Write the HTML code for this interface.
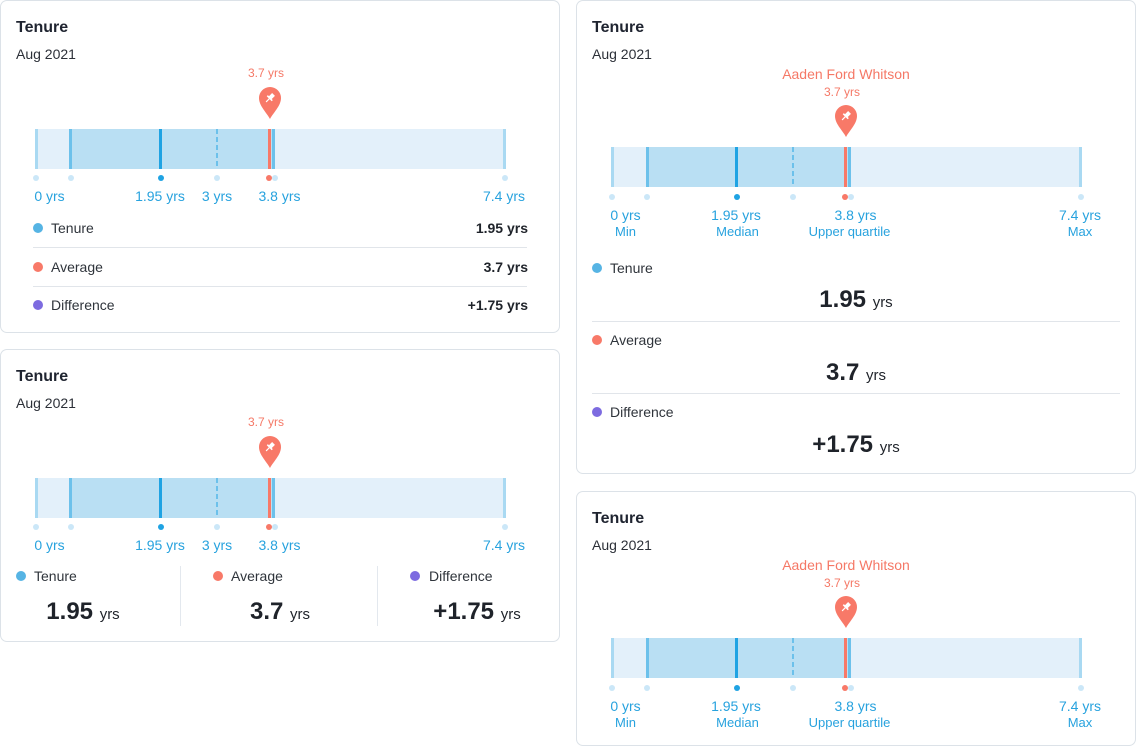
<!DOCTYPE html>
<html><head><meta charset="utf-8">
<style>
*{margin:0;padding:0;box-sizing:border-box}
body{width:1136px;height:746px;background:#fff;position:relative;overflow:hidden;font-family:"Liberation Sans",Arial,sans-serif}
.card{position:absolute;background:#fff;box-shadow:inset 0 0 0 1px #dce2e8;border-radius:7px}
.a{position:absolute}
.t{position:absolute;left:16px;top:18px;font-weight:700;font-size:16px;line-height:20px;color:#1f2430}
.d{position:absolute;left:16px;top:44px;font-size:14px;line-height:20px;color:#2c3038}
.chart{position:absolute;left:0;width:100%;height:1px}
.bg{position:absolute;left:35px;width:471px;top:0;height:40px;background:#e3f0fa}
.fill{position:absolute;left:71px;width:203px;top:0;height:40px;background:#b9dff3}
.ln{position:absolute;top:0;height:40px;width:3px}
.dash{position:absolute;top:0;height:40px;left:216px;width:2px;background:repeating-linear-gradient(to bottom,#6cc1eb 0 5px,transparent 5px 8px)}
.dot{position:absolute;width:6px;height:6px;border-radius:50%;top:46px}
.lb{position:absolute;width:120px;text-align:center;font-size:14px;line-height:20px;color:#27a2de;top:57px}
.sb{position:absolute;width:120px;text-align:center;font-size:13px;line-height:18px;color:#27a2de;top:76px}
.pl{position:absolute;width:120px;text-align:center;font-size:12px;line-height:16px;color:#f57866;top:-64px;left:206px}
.nm{position:absolute;width:200px;text-align:center;font-size:14px;line-height:20px;color:#f57866;top:-83px;left:170px}
.pin{position:absolute;left:258.5px;top:-42px}
.lg{position:absolute;font-size:14px;line-height:20px;color:#2f343b}
.ld{position:absolute;width:10px;height:10px;border-radius:50%}
.lv{position:absolute;font-size:14px;line-height:20px;color:#1f232a;font-weight:700;text-align:right}
.sep{position:absolute;height:1px;background:#e1e5ea}
.big{position:absolute;width:200px;text-align:center;font-size:24px;line-height:32px;font-weight:700;color:#1f232a;white-space:nowrap}
.big span{font-size:15px;font-weight:400}
</style></head><body>

<!-- shared chart template repeated -->

<!-- Card 1 -->
<div class="card" style="left:0;top:0;width:560px;height:333px">
  <div class="t">Tenure</div>
  <div class="d">Aug 2021</div>
  <div class="chart" style="top:129px">
    <div class="pl">3.7 yrs</div>
    <svg class="pin" width="22" height="32" viewBox="0 0 22 32"><path d="M11 32 C8 26 0 19 0 11 A11 11 0 1 1 22 11 C22 19 14 26 11 32 Z" fill="#f87968"/><g transform="rotate(45 11 11)" fill="#fff"><rect x="9" y="6" width="4" height="5"/><rect x="7.5" y="10.5" width="7" height="1.6"/><rect x="10.4" y="12" width="1.2" height="4.5"/></g></svg>
    <div class="bg"></div><div class="fill"></div>
    <div class="ln" style="left:35px;background:#a9d9f2"></div>
    <div class="ln" style="left:69px;background:#6cc1eb"></div>
    <div class="ln" style="left:159px;background:#1fa3e3"></div>
    <div class="dash"></div>
    <div class="ln" style="left:272px;background:#6cc1eb"></div>
    <div class="ln" style="left:268px;background:#f87968"></div>
    <div class="ln" style="left:503px;background:#a9d9f2"></div>
    <div class="dot" style="left:33px;background:#cbe7f8"></div>
    <div class="dot" style="left:67.5px;background:#cbe7f8"></div>
    <div class="dot" style="left:157.5px;background:#1fa3e3"></div>
    <div class="dot" style="left:214px;background:#cbe7f8"></div>
    <div class="dot" style="left:271.5px;background:#cbe7f8"></div>
    <div class="dot" style="left:265.5px;background:#f87968"></div>
    <div class="dot" style="left:501.5px;background:#cbe7f8"></div>
    <div class="lb" style="left:-10.5px">0 yrs</div>
    <div class="lb" style="left:100px">1.95 yrs</div>
    <div class="lb" style="left:157px">3 yrs</div>
    <div class="lb" style="left:219.5px">3.8 yrs</div>
    <div class="lb" style="left:444px">7.4 yrs</div>
  </div>
  <div class="ld" style="left:33px;top:223px;background:#56b4e4"></div>
  <div class="lg" style="left:51px;top:218px">Tenure</div>
  <div class="lv" style="right:32px;top:218px">1.95 yrs</div>
  <div class="sep" style="left:33px;width:494px;top:247px"></div>
  <div class="ld" style="left:33px;top:261.7px;background:#f87968"></div>
  <div class="lg" style="left:51px;top:256.7px">Average</div>
  <div class="lv" style="right:32px;top:256.7px">3.7 yrs</div>
  <div class="sep" style="left:33px;width:494px;top:286px"></div>
  <div class="ld" style="left:33px;top:300px;background:#7d6be0"></div>
  <div class="lg" style="left:51px;top:295px">Difference</div>
  <div class="lv" style="right:32px;top:295px">+1.75 yrs</div>
</div>

<!-- Card 2 -->
<div class="card" style="left:0;top:349px;width:560px;height:293px">
  <div class="t">Tenure</div>
  <div class="d">Aug 2021</div>
  <div class="chart" style="top:129px">
    <div class="pl">3.7 yrs</div>
    <svg class="pin" width="22" height="32" viewBox="0 0 22 32"><path d="M11 32 C8 26 0 19 0 11 A11 11 0 1 1 22 11 C22 19 14 26 11 32 Z" fill="#f87968"/><g transform="rotate(45 11 11)" fill="#fff"><rect x="9" y="6" width="4" height="5"/><rect x="7.5" y="10.5" width="7" height="1.6"/><rect x="10.4" y="12" width="1.2" height="4.5"/></g></svg>
    <div class="bg"></div><div class="fill"></div>
    <div class="ln" style="left:35px;background:#a9d9f2"></div>
    <div class="ln" style="left:69px;background:#6cc1eb"></div>
    <div class="ln" style="left:159px;background:#1fa3e3"></div>
    <div class="dash"></div>
    <div class="ln" style="left:272px;background:#6cc1eb"></div>
    <div class="ln" style="left:268px;background:#f87968"></div>
    <div class="ln" style="left:503px;background:#a9d9f2"></div>
    <div class="dot" style="left:33px;background:#cbe7f8"></div>
    <div class="dot" style="left:67.5px;background:#cbe7f8"></div>
    <div class="dot" style="left:157.5px;background:#1fa3e3"></div>
    <div class="dot" style="left:214px;background:#cbe7f8"></div>
    <div class="dot" style="left:271.5px;background:#cbe7f8"></div>
    <div class="dot" style="left:265.5px;background:#f87968"></div>
    <div class="dot" style="left:501.5px;background:#cbe7f8"></div>
    <div class="lb" style="left:-10.5px">0 yrs</div>
    <div class="lb" style="left:100px">1.95 yrs</div>
    <div class="lb" style="left:157px">3 yrs</div>
    <div class="lb" style="left:219.5px">3.8 yrs</div>
    <div class="lb" style="left:444px">7.4 yrs</div>
  </div>
  <div class="ld" style="left:15.7px;top:222px;background:#56b4e4"></div>
  <div class="lg" style="left:34px;top:217px">Tenure</div>
  <div class="ld" style="left:213px;top:222px;background:#f87968"></div>
  <div class="lg" style="left:231px;top:217px">Average</div>
  <div class="ld" style="left:410px;top:222px;background:#7d6be0"></div>
  <div class="lg" style="left:429px;top:217px">Difference</div>
  <div class="a" style="left:180px;top:217px;width:1px;height:60px;background:#e3e8ee"></div>
  <div class="a" style="left:377px;top:217px;width:1px;height:60px;background:#e3e8ee"></div>
  <div class="big" style="left:-17px;top:247px">1.95 <span>yrs</span></div>
  <div class="big" style="left:180px;top:247px">3.7 <span>yrs</span></div>
  <div class="big" style="left:377px;top:247px">+1.75 <span>yrs</span></div>
</div>

<!-- Card 3 -->
<div class="card" style="left:576px;top:0;width:560px;height:474px">
  <div class="t">Tenure</div>
  <div class="d">Aug 2021</div>
  <div class="chart" style="top:147px">
    <div class="nm">Aaden Ford Whitson</div>
    <div class="pl" style="top:-63px">3.7 yrs</div>
    <svg class="pin" width="22" height="32" viewBox="0 0 22 32"><path d="M11 32 C8 26 0 19 0 11 A11 11 0 1 1 22 11 C22 19 14 26 11 32 Z" fill="#f87968"/><g transform="rotate(45 11 11)" fill="#fff"><rect x="9" y="6" width="4" height="5"/><rect x="7.5" y="10.5" width="7" height="1.6"/><rect x="10.4" y="12" width="1.2" height="4.5"/></g></svg>
    <div class="bg"></div><div class="fill"></div>
    <div class="ln" style="left:35px;background:#a9d9f2"></div>
    <div class="ln" style="left:70px;background:#6cc1eb"></div>
    <div class="ln" style="left:159px;background:#1fa3e3"></div>
    <div class="dash"></div>
    <div class="ln" style="left:272px;background:#6cc1eb"></div>
    <div class="ln" style="left:268px;background:#f87968"></div>
    <div class="ln" style="left:503px;background:#a9d9f2"></div>
    <div class="dot" style="left:33px;top:47px;background:#cbe7f8"></div>
    <div class="dot" style="left:68px;top:47px;background:#cbe7f8"></div>
    <div class="dot" style="left:157.5px;top:47px;background:#1fa3e3"></div>
    <div class="dot" style="left:214px;top:47px;background:#cbe7f8"></div>
    <div class="dot" style="left:271.5px;top:47px;background:#cbe7f8"></div>
    <div class="dot" style="left:265.5px;top:47px;background:#f87968"></div>
    <div class="dot" style="left:501.5px;top:47px;background:#cbe7f8"></div>
    <div class="lb" style="left:-10.5px;top:58px">0 yrs</div>
    <div class="lb" style="left:100px;top:58px">1.95 yrs</div>
    <div class="lb" style="left:219.5px;top:58px">3.8 yrs</div>
    <div class="lb" style="left:444px;top:58px">7.4 yrs</div>
    <div class="sb" style="left:-10.5px">Min</div>
    <div class="sb" style="left:101.5px">Median</div>
    <div class="sb" style="left:213.5px">Upper quartile</div>
    <div class="sb" style="left:444px">Max</div>
  </div>
  <div class="ld" style="left:16px;top:263px;background:#56b4e4"></div>
  <div class="lg" style="left:34px;top:258px">Tenure</div>
  <div class="big" style="left:180px;top:284px">1.95 <span>yrs</span></div>
  <div class="sep" style="left:16px;width:528px;top:321px"></div>
  <div class="ld" style="left:16px;top:335px;background:#f87968"></div>
  <div class="lg" style="left:34px;top:330px">Average</div>
  <div class="big" style="left:180px;top:356.5px">3.7 <span>yrs</span></div>
  <div class="sep" style="left:16px;width:528px;top:393px"></div>
  <div class="ld" style="left:16px;top:407px;background:#7d6be0"></div>
  <div class="lg" style="left:34px;top:402px">Difference</div>
  <div class="big" style="left:180px;top:428.5px">+1.75 <span>yrs</span></div>
</div>

<!-- Card 4 -->
<div class="card" style="left:576px;top:491px;width:560px;height:255px">
  <div class="t">Tenure</div>
  <div class="d">Aug 2021</div>
  <div class="chart" style="top:147px">
    <div class="nm">Aaden Ford Whitson</div>
    <div class="pl" style="top:-63px">3.7 yrs</div>
    <svg class="pin" width="22" height="32" viewBox="0 0 22 32"><path d="M11 32 C8 26 0 19 0 11 A11 11 0 1 1 22 11 C22 19 14 26 11 32 Z" fill="#f87968"/><g transform="rotate(45 11 11)" fill="#fff"><rect x="9" y="6" width="4" height="5"/><rect x="7.5" y="10.5" width="7" height="1.6"/><rect x="10.4" y="12" width="1.2" height="4.5"/></g></svg>
    <div class="bg"></div><div class="fill"></div>
    <div class="ln" style="left:35px;background:#a9d9f2"></div>
    <div class="ln" style="left:70px;background:#6cc1eb"></div>
    <div class="ln" style="left:159px;background:#1fa3e3"></div>
    <div class="dash"></div>
    <div class="ln" style="left:272px;background:#6cc1eb"></div>
    <div class="ln" style="left:268px;background:#f87968"></div>
    <div class="ln" style="left:503px;background:#a9d9f2"></div>
    <div class="dot" style="left:33px;top:46.5px;background:#cbe7f8"></div>
    <div class="dot" style="left:68px;top:46.5px;background:#cbe7f8"></div>
    <div class="dot" style="left:157.5px;top:46.5px;background:#1fa3e3"></div>
    <div class="dot" style="left:214px;top:46.5px;background:#cbe7f8"></div>
    <div class="dot" style="left:271.5px;top:46.5px;background:#cbe7f8"></div>
    <div class="dot" style="left:265.5px;top:46.5px;background:#f87968"></div>
    <div class="dot" style="left:501.5px;top:46.5px;background:#cbe7f8"></div>
    <div class="lb" style="left:-10.5px;top:57.5px">0 yrs</div>
    <div class="lb" style="left:100px;top:57.5px">1.95 yrs</div>
    <div class="lb" style="left:219.5px;top:57.5px">3.8 yrs</div>
    <div class="lb" style="left:444px;top:57.5px">7.4 yrs</div>
    <div class="sb" style="left:-10.5px;top:75.5px">Min</div>
    <div class="sb" style="left:101.5px;top:75.5px">Median</div>
    <div class="sb" style="left:213.5px;top:75.5px">Upper quartile</div>
    <div class="sb" style="left:444px;top:75.5px">Max</div>
  </div>
</div>

</body></html>
